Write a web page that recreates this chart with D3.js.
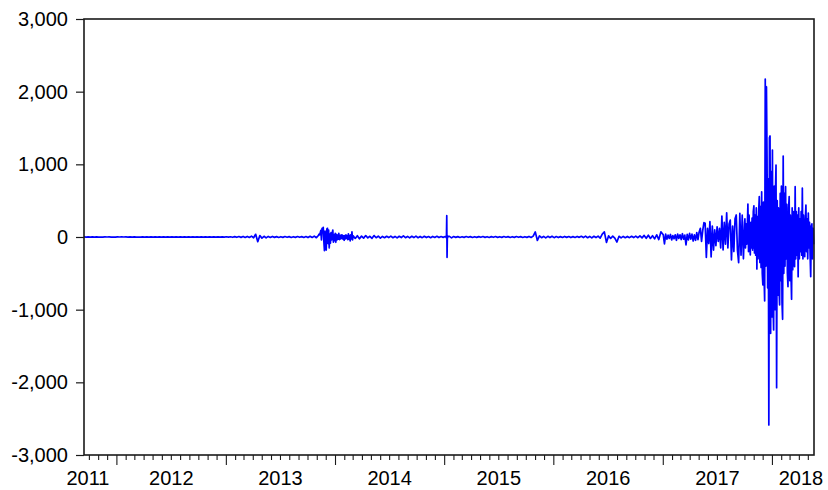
<!DOCTYPE html>
<html>
<head>
<meta charset="utf-8">
<script src="https://cdn.jsdelivr.net/npm/d3@7"></script>
<style>
  html, body { margin: 0; padding: 0; background: #ffffff; }
  svg { display: block; }
  text { font-family: "Liberation Sans", Arial, sans-serif; fill: #000; }
</style>
</head>
<body>
<svg id="chart" width="828" height="490"></svg>
<script>
// ---------------- DATA ----------------
// Axis limits and tick labels
const dateStart = "2011-09-13";
const dateEnd = "2018-05-20";
const yTickValues = [-3000, -2000, -1000, 0, 1000, 2000, 3000];
const yTickLabels = ["-3,000", "-2,000", "-1,000", "0", "1,000", "2,000", "3,000"];
const yearLabels = ["2011", "2012", "2013", "2014", "2015", "2016", "2017", "2018"];

// Series is stored in sampled segments: start date, sampling step (days), values
const segStarts = ["2011-09-13", "2013-11-01", "2014-03-01", "2015-01-05", "2015-01-17", "2017-01-01", "2017-10-01"];
const segSteps = [7, 2, 7, 1, 7, 4, 2];

// Sep 2011 - Oct 2013 (weekly)
const valuesA = [
  0.5, -0.8, 0.6, -0.5, 0.4, -0.6, 0.8, -0.4, 0.3, -0.6,
  0.5, -0.3, 0.4, -0.5, 0.3, -0.4, 0.5, -0.3, 0.4, -0.2,
  0.6, -0.5, 0.4, -0.6, 0.5, -0.4, 0.3, -0.5, 0.6, -0.4,
  0.5, -0.6, 0.8, -0.5, 0.6, -0.8, 1.0, -0.7, 0.8, -0.6,
  1.2, -1.0, 0.9, -1.2, 1.5, -1.0, 1.2, -0.8, 1.0, -1.2,
  1.5, -1.0, 1.2, -1.5, 1.0, -1.2, 1.5, -1.0, 1.2, -1.5,
  2, -1.5, 2, -2.5, 1.5, -2, 2.5, -2, 3, -2.5,
  3, -4, 5, -4, 6, -5, 8, -6, 8, -6,
  12, -10, 37, -65, 20, -15, 10, -12, 8, -6,
  8, -5, 5, -6, 4, -5, 6, -4, 5, -6,
  4, -5, 6, -4, 5, -6, 7, -8, 10, -7,
  12, -10
];
// Nov 2013 - Feb 2014 (every 2 days)
const valuesB = [
  5, 12, 25, 40, 30, 60, 90, -40, 120, 60,
  133, -60, -188, 80, -120, -180, 110, 120, -90, 96,
  -150, 40, -85, 60, -40, 50, 96, -70, 30, -50,
  50, -73, 35, -40, 25, -30, 50, -35, 20, -25,
  30, -20, 25, -30, 15, -45, 20, -25, 30, -20,
  15, -35, 45, -30, 20, -55, 30, -25, 70, -40
];
// Mar 2014 - early Jan 2015 (weekly)
const valuesC1 = [
  15, -20, 18, -25, 12, -15, 20, -12, 10, -18,
  20, -10, 12, -15, 8, -10, 10, -8, 12, -10,
  8, -12, 10, -8, 15, -10, 8, -12, 10, -8,
  12, -10, 8, -9, 10, -8, 6, -10, 8, -6,
  9, -8, 6, -5, 6
];
// 5-12 Jan 2015 (daily)
const valuesC2 = [5, -8, 10, 293, -280, 12, -6, 8];
// mid Jan 2015 - Dec 2016 (weekly)
const valuesC3 = [
  8, -12, 6, -5, 5, -6, 4, -5, 6, -4,
  5, -6, 4, -5, 5, -4, 6, -5, 4, -6,
  5, -4, 6, -5, 4, -5, 6, -4, 5, -6,
  4, -5, 6, -4, 5, -6, 4, -5, 8, -6,
  12, 70, -48, 15, -10, 8, -12, 9, -8, 10,
  -9, 6, -8, 5, -6, 8, -5, 6, -8, 5,
  -6, 8, -5, 10, -8, 12, -10, 8, -12, 10,
  -8, 12, -15, 40, 70, -75, 15, -20, 12, -15,
  -70, 10, -12, 8, -10, 8, -9, 10, -8, 12,
  -10, 15, -12, 22, -18, 25, -20, 18, -25, 30,
  -35, 70
];
// Jan 2017 - Sep 2017 (every 4 days)
const valuesD = [
  30, -96, 40, -30, 25, -20, 35, -40, 20, -25,
  30, -45, 40, -20, 30, -35, 45, -30, 25, -110,
  35, -40, 50, -30, 40, -55, 30, -45, 60, -35,
  70, 120, -60, 90, 197, 189, -280, 120, -90, 211,
  -275, 150, -180, 100, -120, 140, -60, 120, -150, 289,
  -179, 200, -100, 334, -150, 180, 234, -316, 150, -200,
  250, 303, -180, -353, 326, -250, 300, -300, 200
];
// Oct 2017 - May 2018 (every 2 days)
const valuesE = [
  250, -150, 180, -100, 120, 454, -200, 300, -120, -248,
  200, -150, 260, -180, 350, 430, -220, 300, -250, 400,
  -440, 280, -300, 350, 555, -350, 420, -420, 623, -500,
  -660, 480, -550, -880, 2174, -400, 2068, 1105, -700, 800,
  -2587, 1366, 1390, -1325, 900, -1100, 1197, -900, -1280, 700,
  -1000, 600, 990, -2073, 500, -800, 400, -700, -936, 600,
  -600, 700, -900, -1133, 1114, -500, 600, -400, 692, -300,
  450, -500, -684, 400, 555, -600, 300, -500, -857, 400,
  -450, 350, -300, -408, 692, -300, 350, -250, 300, -546,
  400, -300, 250, -200, 350, -250, 674, -300, 300, -200,
  -271, 250, 440, -200, 250, -300, 330, -150, 200, -250,
  -546, 150, 180, -300, 120, -100
];
const segValues = [valuesA, valuesB, valuesC1, valuesC2, valuesC3, valuesD, valuesE];

// ---------------- CHART ----------------
const parse = d3.utcParse("%Y-%m-%d");
const series = [];
segStarts.forEach((s, k) => {
  const t0 = parse(s);
  segValues[k].forEach((v, i) => {
    series.push({ date: d3.utcDay.offset(t0, i * segSteps[k]), value: v });
  });
});

const svg = d3.select("#chart");
const plot = { left: 84, right: 814, top: 19, bottom: 455 };
const labelFont = 20;

const x = d3.scaleUtc()
  .domain([parse(dateStart), parse(dateEnd)])
  .range([plot.left, plot.right]);
const y = d3.scaleLinear()
  .domain([-3000, 3000])
  .range([plot.bottom, plot.top]);

// series line
const line = d3.line()
  .x(d => x(d.date))
  .y(d => y(d.value));

svg.append("path")
  .datum(series)
  .attr("fill", "none")
  .attr("stroke", "#0000ff")
  .attr("stroke-width", 1.7)
  .attr("stroke-linejoin", "round")
  .attr("d", line);

// frame
svg.append("rect")
  .attr("x", plot.left)
  .attr("y", plot.top)
  .attr("width", plot.right - plot.left)
  .attr("height", plot.bottom - plot.top)
  .attr("fill", "none")
  .attr("stroke", "#1a1a1a")
  .attr("stroke-width", 1.6);

// y axis
const yAxis = d3.axisLeft(y)
  .tickValues(yTickValues)
  .tickSize(8)
  .tickPadding(8)
  .tickFormat((d, i) => yTickLabels[i]);
const gy = svg.append("g")
  .attr("transform", `translate(${plot.left},0)`)
  .call(yAxis);
gy.select(".domain").remove();
gy.selectAll(".tick line").attr("stroke", "#1a1a1a").attr("stroke-width", 1.2);
gy.selectAll(".tick text")
  .attr("font-family", '"Liberation Sans", Arial, sans-serif')
  .attr("font-size", labelFont)
  .attr("fill", "#000");

// x axis: monthly minor ticks, yearly major ticks
const dom = x.domain();
const months = d3.utcMonth.range(d3.utcDay.offset(dom[0], 1), dom[1]);
const gx = svg.append("g");
gx.selectAll("line.minor")
  .data(months)
  .join("line")
  .attr("x1", d => x(d)).attr("x2", d => x(d))
  .attr("y1", plot.bottom)
  .attr("y2", d => plot.bottom + (d.getUTCMonth() === 0 ? 10 : 5))
  .attr("stroke", "#1a1a1a")
  .attr("stroke-width", 1.1);

gx.selectAll("text.year")
  .data(yearLabels)
  .join("text")
  .attr("class", "year")
  .attr("x", d => {
    const mid = x(parse(d + "-07-01"));
    return Math.max(88, Math.min(801, mid));
  })
  .attr("y", 485)
  .attr("text-anchor", "middle")
  .attr("font-size", labelFont)
  .text(d => d);
</script>
</body>
</html>
